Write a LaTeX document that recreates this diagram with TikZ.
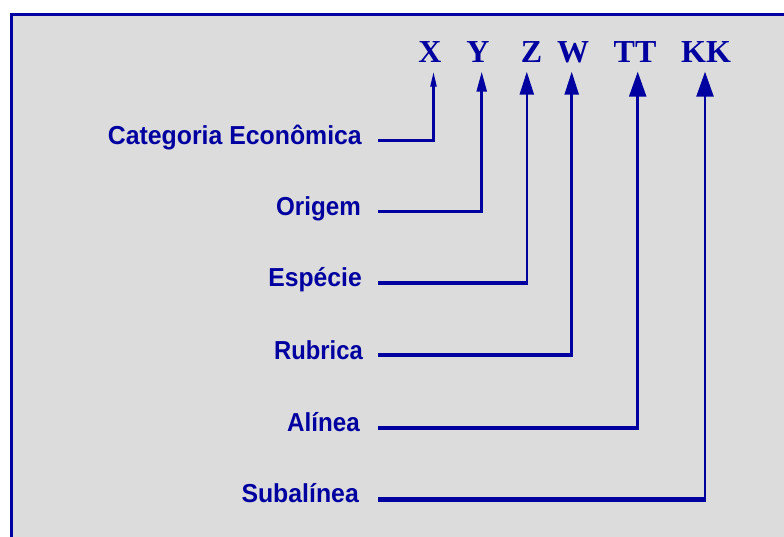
\documentclass[tikz,border=0pt]{standalone}
\usepackage{fontspec}
\setmainfont{Liberation Serif}
\newfontfamily\labfont{Liberation Sans}
\usetikzlibrary{arrows.meta}
\definecolor{dblue}{RGB}{0,0,160}
\definecolor{bggray}{RGB}{220,220,220}
\tikzset{
  letter/.style={text=dblue,font=\fontsize{32}{36}\selectfont\bfseries,inner sep=0pt,anchor=base},
  lab/.style={text=dblue,inner sep=0pt,anchor=base east},
  hline/.style={draw=dblue,line cap=butt},
  vline/.style={draw=dblue,line width=2.5pt,line cap=butt},
}
\newcommand{\lbl}[2][0.93]{\scalebox{#1}[1]{\labfont\fontsize{26}{30}\selectfont\bfseries #2}}
\begin{document}
\begin{tikzpicture}[x=1pt,y=-1pt]
\useasboundingbox (0,0) rectangle (784,536);
\fill[white] (0,0) rectangle (784,536);
\draw[draw=dblue,fill=bggray,line width=3pt] (11,14.3) rectangle (820,570);
% letters
\node[letter] (X) at (430,62) {X};
\node[letter] (Y) at (478,62) {Y};
\node[letter] (Z) at (531.5,62) {Z};
\node[letter] (W) at (573,62) {W};
\node[letter] (TT) at (635,62) {TT};
\node[letter] (KK) at (706,62) {KK};
% labels
\node[lab] (l1) at (362,144) {\lbl[0.955]{Categoria Econômica}};
\node[lab] (l2) at (361,215) {\lbl{Origem}};
\node[lab] (l3) at (362,286.5) {\lbl[0.95]{Espécie}};
\node[lab] (l4) at (363,359) {\lbl[0.915]{Rubrica}};
\node[lab] (l5) at (360,431.5) {\lbl{Alínea}};
\node[lab] (l6) at (359,502) {\lbl[0.955]{Subalínea}};
% start and corner points
\coordinate (s1) at (378,140.7); \coordinate (c1) at (433.5,140.7);
\coordinate (s2) at (378,211.7); \coordinate (c2) at (481.7,211.7);
\coordinate (s3) at (378,283.3); \coordinate (c3) at (526.8,283.3);
\coordinate (s4) at (378,355);   \coordinate (c4) at (571.7,355);
\coordinate (s5) at (378,428);   \coordinate (c5) at (637.7,428);
\coordinate (s6) at (378,499.5); \coordinate (c6) at (705,499.5);
% horizontal parts
\draw[hline,line width=3pt] (s1) -- ([xshift=1.2pt]c1);
\draw[hline,line width=3.3pt] (s2) -- ([xshift=1.2pt]c2);
\draw[hline,line width=4.2pt] (s3) -- ([xshift=1.2pt]c3);
\draw[hline,line width=4.5pt] (s4) -- ([xshift=1.2pt]c4);
\draw[hline,line width=4.5pt] (s5) -- ([xshift=1.2pt]c5);
\draw[hline,line width=4.5pt] (s6) -- ([xshift=1.2pt]c6);
% vertical parts with arrows
\draw[vline,line width=2.3pt,-{Triangle[length=15pt,width=6pt]},shorten >=9.7pt] ([yshift=1.5pt]c1) -- (c1 |- X.base);
\draw[vline,-{Triangle[length=20pt,width=10pt]},shorten >=9.7pt] ([yshift=1.6pt]c2) -- (c2 |- Y.base);
\draw[vline,-{Triangle[length=23pt,width=14pt]},shorten >=9.7pt] ([yshift=2.1pt]c3) -- (c3 |- Z.base);
\draw[vline,-{Triangle[length=23pt,width=14pt]},shorten >=9.7pt] ([yshift=2.2pt]c4) -- (c4 |- W.base);
\draw[vline,-{Triangle[length=25pt,width=17pt]},shorten >=9.7pt] ([yshift=2.2pt]c5) -- (c5 |- TT.base);
\draw[vline,-{Triangle[length=25pt,width=17pt]},shorten >=9.7pt] ([yshift=2.2pt]c6) -- (c6 |- KK.base);
\end{tikzpicture}
\end{document}
